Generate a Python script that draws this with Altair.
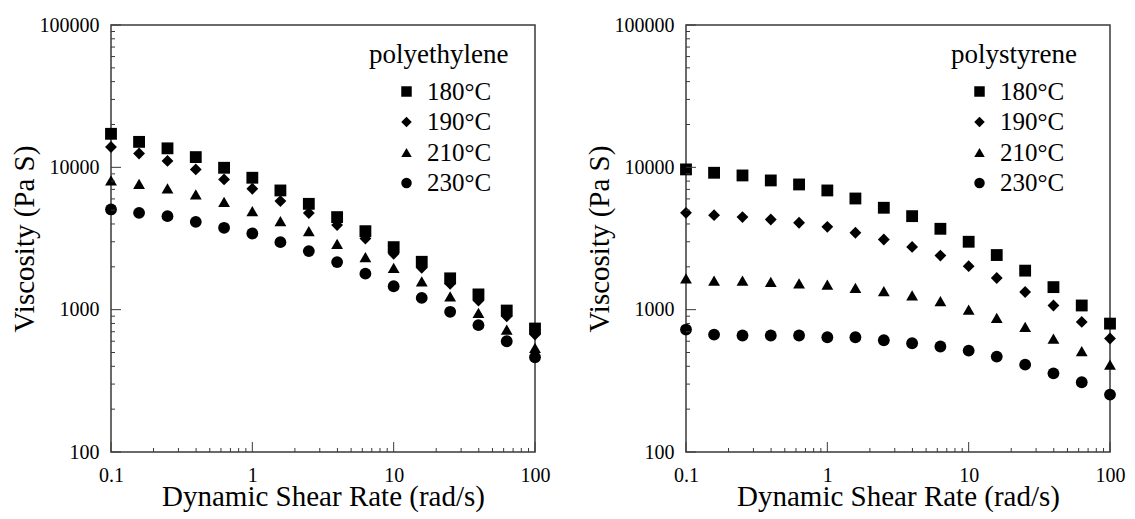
import altair as alt
import pandas as pd

# ---------------- data ----------------
rates = [0.1, 0.158, 0.251, 0.398, 0.631, 1.0, 1.58, 2.51, 3.98, 6.31,
         10.0, 15.8, 25.1, 39.8, 63.1, 100.0]
temps = ["180°C", "190°C", "210°C", "230°C"]

pe_180 = [17200, 15100, 13600, 11800, 9930, 8450, 6880, 5540, 4470, 3560,
          2750, 2170, 1660, 1280, 986, 737]
pe_190 = [13900, 12500, 11100, 9670, 8220, 7070, 5790, 4770, 3930, 3160,
          2470, 1970, 1520, 1160, 899, 668]
pe_210 = [8090, 7660, 7110, 6450, 5730, 4920, 4190, 3560, 2900, 2340,
          1970, 1580, 1240, 950, 725, 539]
pe_230 = [5060, 4790, 4540, 4140, 3760, 3430, 2980, 2580, 2160, 1790,
          1460, 1210, 966, 778, 600, 463]

ps_180 = [9670, 9160, 8770, 8090, 7580, 6880, 6040, 5200, 4540, 3700,
          3000, 2420, 1880, 1440, 1070, 798]
ps_190 = [4790, 4610, 4470, 4300, 4080, 3820, 3470, 3110, 2760, 2400,
          2020, 1670, 1330, 1070, 820, 627]
ps_210 = [1660, 1600, 1600, 1570, 1530, 1500, 1420, 1350, 1260, 1150,
          1000, 875, 757, 627, 511, 411]
ps_230 = [725, 668, 658, 658, 658, 640, 640, 610, 581, 551,
          516, 468, 411, 357, 309, 253]

x_labels = [0.1, 1, 10, 100]
y_labels = [100, 1000, 10000, 100000]
x_minor = [m * 10.0 ** e for e in (-1, 0, 1) for m in range(2, 10)]
y_minor = [m * 10 ** e for e in (2, 3, 4) for m in range(2, 10)]

# ---------------- style ----------------
FONT = "Liberation Serif"
FRAME = "#3a3a3a"
W, H = 424, 427
shapes = ["square", "diamond", "triangle-up", "circle"]
XTITLE = "Dynamic Shear Rate (rad/s)"
YTITLE = "Viscosity (Pa S)"


def make_df(series):
    rows = []
    for t, vals in zip(temps, series):
        for r, v in zip(rates, vals):
            rows.append({"rate": r, "visc": v, "temp": t})
    return pd.DataFrame(rows)


xscale = alt.Scale(type="log", domain=[0.1, 100], nice=False)
yscale = alt.Scale(type="log", domain=[100, 100000], nice=False)

xaxis = alt.Axis(values=x_labels, format="~g", labelPadding=13, labelFlush=False,
                 ticks=False, domain=False, grid=False, title=XTITLE, titlePadding=-3)
yaxis = alt.Axis(values=y_labels, format="d", labelPadding=12, labelFlush=False,
                 ticks=False, domain=False, grid=False, title=YTITLE, titlePadding=0)


def panel(series, title, legend_x, sym_off):
    df = make_df(series)
    pts = alt.Chart(df).mark_point(filled=True, opacity=1, size=140,
                                   color="black", strokeWidth=0).encode(
        x=alt.X("rate:Q", scale=xscale, axis=xaxis, title=XTITLE),
        y=alt.Y("visc:Q", scale=yscale, axis=yaxis, title=YTITLE),
        shape=alt.Shape("temp:N", scale=alt.Scale(domain=temps, range=shapes),
                        legend=alt.Legend(orient="none", legendX=legend_x, legendY=17,
                                          title=title, symbolOffset=sym_off)),
    )

    def xrule(vals, length):
        return alt.Chart(pd.DataFrame({"rate": vals})).mark_rule(
            color=FRAME, strokeWidth=1).encode(
            x=alt.X("rate:Q", scale=xscale, axis=xaxis, title=XTITLE),
            y=alt.value(H), y2=alt.value(H - length))

    def yrule(vals, length):
        return alt.Chart(pd.DataFrame({"visc": vals})).mark_rule(
            color=FRAME, strokeWidth=1).encode(
            y=alt.Y("visc:Q", scale=yscale, axis=yaxis, title=YTITLE),
            x=alt.value(0), x2=alt.value(length))

    return alt.layer(pts, xrule(x_labels, 10), xrule(x_minor, 4),
                     yrule(y_labels, 10), yrule(y_minor, 4)).properties(width=W, height=H)


left = panel([pe_180, pe_190, pe_210, pe_230], "polyethylene", 258, 25)
right = panel([ps_180, ps_190, ps_210, ps_230], "polystyrene", 265, 16)

chart = alt.hconcat(left, right, spacing=33).resolve_legend(shape="independent").resolve_scale(
    shape="independent").properties(
    padding={"left": 1, "top": 6, "right": 0, "bottom": 0}, background="white"
).configure_view(stroke=FRAME, strokeWidth=1.5).configure_axis(
    labelFont=FONT, labelFontSize=20, labelColor="black",
    titleFont=FONT, titleFontSize=29, titleFontWeight="normal", titleColor="black"
).configure_legend(
    titleFont=FONT, titleFontSize=27, titleFontWeight="normal", titleColor="black",
    titlePadding=10, labelFont=FONT, labelFontSize=25, labelColor="black",
    labelOffset=8, symbolSize=110, symbolFillColor="black", symbolStrokeWidth=0,
    rowPadding=4.5, padding=0
)

chart.save("out.html", embed_options={"renderer": "svg", "actions": False})
